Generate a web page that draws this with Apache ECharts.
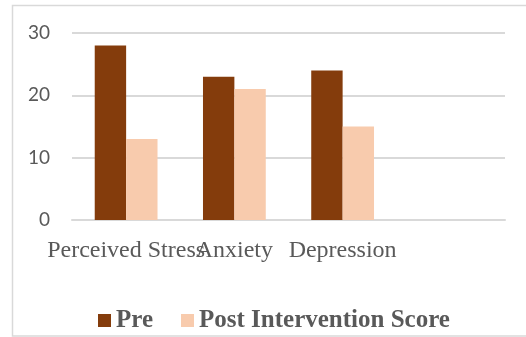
<!DOCTYPE html>
<html>
<head>
<meta charset="utf-8">
<script src="https://cdn.jsdelivr.net/npm/echarts@6/dist/echarts.min.js"></script>
<style>
  html, body { margin: 0; padding: 0; background: #fff; }
  #chart { width: 526px; height: 337px; }
</style>
</head>
<body>
<div id="chart"></div>
<script>
// Scores before and after the intervention
const categories = ['Perceived Stress', 'Anxiety', 'Depression', ''];
const preScores = [28, 23, 24, null];
const postScores = [13, 21, 15, null];
const seriesNames = ['Pre', 'Post Intervention Score'];

const chart = echarts.init(document.getElementById('chart'), null, { renderer: 'canvas' });

chart.setOption({
  animation: false,
  backgroundColor: '#ffffff',
  graphic: [{
    type: 'rect',
    shape: { x: 12.5, y: 5.5, width: 600, height: 330.5 },
    style: { fill: 'none', stroke: '#d9d9d9', lineWidth: 1.5 },
    silent: true
  }],
  grid: { left: 72, right: 21, top: 33, bottom: 117 },
  legend: {
    data: seriesNames,
    left: 98,
    top: 308,
    padding: 0,
    itemWidth: 13,
    itemHeight: 13,
    itemGap: 28,
    icon: 'rect',
    textStyle: {
      fontFamily: 'Liberation Serif',
      fontWeight: 'bold',
      fontSize: 25,
      color: '#595959'
    }
  },
  xAxis: {
    type: 'category',
    data: categories,
    axisLine: { show: true, lineStyle: { color: '#d9d9d9', width: 2 } },
    axisTick: { show: false },
    axisLabel: {
      interval: 0,
      margin: 19,
      fontFamily: 'Liberation Serif',
      fontSize: 24,
      color: '#595959'
    }
  },
  yAxis: {
    type: 'value',
    min: 0,
    max: 30,
    interval: 10,
    axisLine: { show: false },
    axisTick: { show: false },
    splitLine: { lineStyle: { color: '#d9d9d9', width: 2 } },
    axisLabel: {
      margin: 22,
      fontFamily: 'Lato',
      fontSize: 19,
      color: '#595959'
    }
  },
  series: [
    {
      name: seriesNames[0],
      type: 'bar',
      data: preScores,
      barGap: '0%',
      barCategoryGap: '42%',
      itemStyle: { color: '#843c0c' }
    },
    {
      name: seriesNames[1],
      type: 'bar',
      data: postScores,
      itemStyle: { color: '#f8cbad' }
    }
  ]
});
</script>
</body>
</html>
